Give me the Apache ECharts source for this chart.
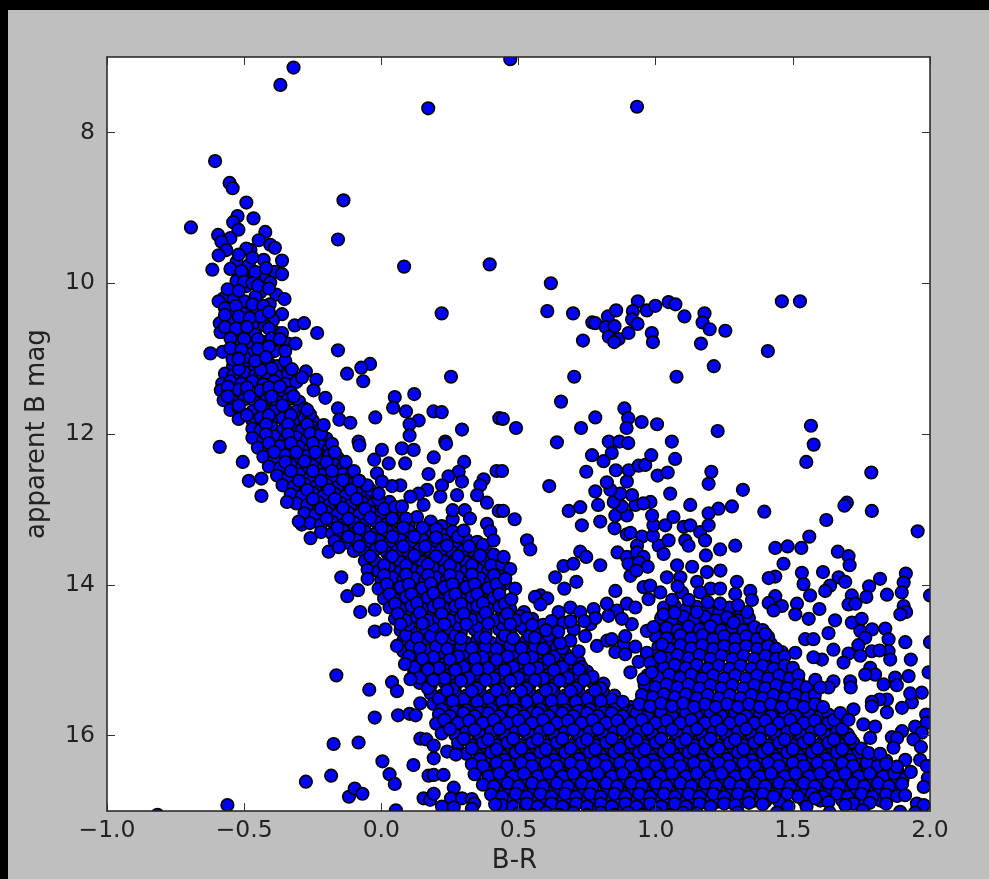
<!DOCTYPE html>
<html><head><meta charset="utf-8">
<style>html,body{margin:0;padding:0;background:#000;width:989px;height:879px;overflow:hidden}
#c{position:absolute;left:8px;top:10px;width:981px;height:869px;filter:blur(0.5px)}</style>
<script src="https://cdn.jsdelivr.net/npm/echarts@6/dist/echarts.min.js"></script>
</head><body><div id="c"></div>
<script>
const xTicks=[-1,-0.5,0,0.5,1,1.5,2];
const yTicks=[8,10,12,14,16];
const brightOutliers=[[-0.32,7.14],[-0.368,7.37],[0.171,7.68],[0.47,7.03],[0.932,7.66],[-0.606,8.38],[-0.553,8.67],[-0.542,8.74],[-0.492,8.93],[-0.138,8.9],[-0.158,9.42],[-0.694,9.26],[0.083,9.78],[0.395,9.75],[0.618,10.0],[0.605,10.37],[0.699,10.4],[1.46,10.24],[1.526,10.24],[0.22,10.4],[-0.158,10.89],[-0.041,11.07],[-0.073,11.12],[-0.125,11.2],[-0.066,11.3],[0.254,11.24]];
const giantArc=[[0.769,10.52],[0.78,10.53],[0.826,10.44],[0.856,10.36],[0.818,10.58],[0.85,10.57],[0.829,10.71],[0.865,10.74],[0.849,10.78],[0.735,10.76],[0.935,10.24],[0.917,10.37],[0.914,10.48],[0.934,10.54],[0.901,10.66],[0.968,10.36],[0.999,10.3],[1.047,10.25],[1.072,10.28],[1.105,10.44],[0.986,10.66],[0.99,10.78],[1.178,10.4],[1.171,10.52],[1.197,10.61],[1.254,10.63],[1.165,10.8],[1.409,10.9],[1.212,11.1],[1.076,11.24],[0.703,11.24],[0.655,11.57]];
const giantBranch=[[0.886,11.66],[0.9,11.79],[0.894,11.92],[0.949,11.84],[1.005,11.87],[0.78,11.78],[0.728,11.92],[0.443,11.8],[0.491,11.92],[1.226,11.96],[1.566,11.89],[0.64,12.11],[0.829,12.1],[0.868,12.1],[0.9,12.12],[1.059,12.1],[1.576,12.14],[0.768,12.28],[0.747,12.5],[0.612,12.69],[0.44,12.49],[0.444,13.02],[0.486,13.13],[0.683,13.02],[0.725,12.97],[0.731,13.21],[0.798,13.16],[0.78,12.76],[0.79,12.94],[0.531,13.41],[0.543,13.53],[0.84,12.25],[0.81,12.36],[0.855,12.48],[0.902,12.48],[0.895,12.63],[0.938,12.42],[0.962,12.41],[0.984,12.28],[1.071,12.33],[1.007,12.55],[1.044,12.51],[1.203,12.5],[1.193,12.66],[1.318,12.74],[1.053,12.79],[1.396,13.03],[1.278,12.96],[1.229,12.99],[1.193,13.05],[1.126,12.94],[1.549,12.37],[1.786,12.51],[1.788,13.02],[1.697,12.91],[1.688,12.95],[1.622,13.14],[1.955,13.29],[1.56,13.36],[1.436,13.51],[1.481,13.49],[1.531,13.51],[1.29,13.48],[1.235,13.53],[1.183,13.61],[1.466,13.72],[1.664,13.56],[1.703,13.62],[1.707,13.74],[0.85,13.25],[0.895,13.08],[0.853,13.08],[0.877,12.96],[0.847,12.9],[0.926,12.94],[0.914,12.81],[0.871,12.79],[0.835,12.74],[0.822,12.64],[0.895,13.33],[0.908,13.31],[0.95,13.36],[0.932,13.48],[1.011,13.48],[1.029,13.59],[1.047,13.41],[0.99,13.35],[0.992,13.21],[1.035,13.21],[1.065,13.1],[0.987,13.08],[0.981,12.9],[0.955,12.92],[1.108,13.41],[1.12,13.48],[1.162,13.3],[1.18,13.41],[1.102,13.23],[1.126,13.21],[1.193,13.21],[0.861,13.57],[0.895,13.63],[0.932,13.57],[0.956,13.63],[0.901,13.72],[0.94,13.7],[0.971,13.76],[0.908,13.88],[0.93,13.81],[0.634,13.9],[0.664,13.75],[0.7,13.72],[0.725,13.56],[0.747,13.63],[0.711,13.96],[0.667,14.05],[0.798,13.74],[0.853,14.08],[0.58,14.14],[0.56,14.16],[0.605,14.18],[0.58,14.26]];
const redFringe=[[1.533,13.84],[1.61,13.83],[1.912,13.85],[1.818,13.92],[1.778,14.02],[1.904,13.97],[1.897,14.1],[1.843,14.13],[2.0,14.14],[1.768,14.16],[1.667,13.9],[1.691,13.96],[1.636,14.01],[1.618,14.08],[1.563,14.14],[1.539,13.99],[1.436,13.89],[1.412,13.91],[1.436,14.15],[1.412,14.24],[1.46,14.28],[1.43,14.34],[1.515,14.25],[1.509,14.39],[1.558,14.45],[1.597,14.32],[1.654,14.47],[1.715,14.14],[1.703,14.26],[1.728,14.25],[1.904,14.28],[1.913,14.36],[1.892,14.39],[1.63,14.64],[1.715,14.5],[1.751,14.45],[1.746,14.61],[1.789,14.59],[1.837,14.58],[1.764,14.7],[1.849,14.72],[1.91,14.76],[1.739,14.8],[1.788,14.88],[1.703,14.91],[1.746,14.94],[1.849,14.88],[1.816,14.87],[1.855,14.99],[1.93,14.99],[2.0,14.76],[1.685,15.03],[1.648,14.86],[1.606,14.99],[1.575,14.96],[1.545,14.72],[1.575,14.72],[1.509,14.9],[1.995,15.16],[1.922,15.21],[1.873,15.23],[1.831,15.32],[1.879,15.33],[1.782,15.1],[1.8,15.19],[1.764,15.19],[1.709,15.28],[1.711,15.36],[1.648,15.28],[1.63,15.36],[1.582,15.26],[1.6,15.36],[1.97,15.43],[1.934,15.56],[1.928,15.44],[1.898,15.63],[1.843,15.52],[1.816,15.52],[1.788,15.55],[1.843,15.69],[1.788,15.61],[1.721,15.65],[1.673,15.7],[1.703,15.79],[1.757,15.85],[1.8,15.88],[1.986,15.72],[1.988,15.83],[1.946,15.88],[1.898,15.94],[1.861,16.02],[1.97,15.96],[1.94,16.05],[1.88,16.03],[1.867,16.16],[1.967,16.15],[1.782,16.03],[1.776,16.23],[1.818,16.24],[1.91,16.32],[1.964,16.32],[1.988,16.4],[1.879,16.41],[1.84,16.37],[1.992,16.56],[1.977,16.68],[1.898,16.64],[1.909,16.79],[1.952,16.9],[1.977,16.92],[1.891,17.01],[1.946,17.02],[1.755,16.99],[1.634,17.02],[1.691,16.92],[1.484,16.94],[1.442,17.02],[1.55,16.94],[1.582,16.83]];
const blueFringe=[[-0.816,17.05],[-0.561,16.92],[-0.141,17.1],[-0.275,16.61],[-0.183,16.53],[-0.174,16.11],[-0.083,16.09],[-0.118,16.81],[-0.097,16.7],[-0.069,16.77],[0.004,16.34],[0.03,16.51],[0.049,16.64],[0.053,16.99],[0.117,16.39],[-0.164,15.2],[-0.044,15.39],[0.039,15.29],[0.057,15.41],[-0.024,15.76],[0.061,15.73],[0.103,15.71],[0.125,15.73],[0.142,15.57],[0.106,15.25],[0.086,15.05],[-0.024,14.62],[0.015,14.59],[0.057,14.81],[-0.077,14.36],[-0.024,14.33],[-0.124,14.15],[-0.085,14.07],[-0.146,13.9],[-0.192,13.56],[-0.258,13.38],[-0.155,13.5],[-0.437,12.82],[-0.483,12.62],[-0.437,12.59],[-0.505,12.37],[-0.589,12.17],[-0.344,12.9],[-0.301,13.16],[0.142,16.04],[0.164,16.05],[0.191,16.13],[0.191,16.3],[0.24,16.21],[0.272,16.25],[0.172,16.53],[0.191,16.52],[0.227,16.52],[0.154,16.83],[0.178,16.85],[0.191,16.77],[0.264,16.69],[0.254,16.83],[0.294,16.83],[0.221,16.94],[0.264,16.95],[0.33,16.84],[0.339,16.9],[0.33,16.97],[0.415,16.91],[0.383,17.1],[0.049,11.51],[0.12,11.47],[0.043,11.65],[0.09,11.7],[0.19,11.7],[0.22,11.71],[-0.022,11.78],[-0.158,11.66],[-0.153,11.81],[-0.113,11.85],[-0.204,11.52],[-0.237,11.28],[-0.275,11.17],[-0.247,11.42],[-0.289,11.25],[-0.326,11.14],[0.136,11.82],[0.103,11.87],[0.294,11.94],[0.103,12.02],[0.43,11.79],[-0.21,11.88],[-0.27,11.68],[0.233,12.1],[-0.083,12.1],[0.42,12.49],[0.302,12.37],[0.282,12.5],[0.245,12.56],[0.294,12.63],[0.221,12.68],[0.172,12.53],[0.191,12.31],[0.087,12.39],[0.027,12.39],[-0.026,12.34],[0.002,12.21],[0.075,12.19],[0.118,12.21],[-0.08,12.15],[0.236,12.13],[0.373,12.6],[0.361,12.68],[0.349,12.81],[0.385,12.91],[0.276,12.81],[0.215,12.83],[0.304,13.01],[0.323,13.12],[0.385,13.19],[0.397,13.29],[0.409,13.41],[0.428,13.02],[0.3,13.28],[0.26,13.01],[0.154,12.94],[0.167,12.74],[0.136,12.79],[0.106,12.83],[0.069,12.68],[0.039,12.69],[-0.016,12.52],[0.002,12.63],[-0.052,12.68],[-0.01,12.79],[0.075,12.96],[-0.083,12.62],[0.446,13.63],[0.47,13.79],[0.452,13.92],[0.488,14.05],[0.474,14.19]];
const tipStars=[[-0.524,9.11],[-0.54,9.19],[-0.466,9.14],[-0.521,9.29],[-0.595,9.36],[-0.423,9.32],[-0.447,9.43],[-0.405,9.49],[-0.388,9.53],[-0.55,9.4],[-0.583,9.45],[-0.565,9.56],[-0.593,9.63],[-0.616,9.82],[-0.362,9.7],[-0.429,9.69],[-0.477,9.56],[-0.492,9.54],[-0.528,9.72],[-0.483,9.76],[-0.55,9.81],[-0.389,9.85],[-0.362,9.88],[-0.429,9.94],[-0.528,9.97],[-0.405,9.99],[-0.465,9.91],[-0.493,10.04],[-0.441,10.12],[-0.383,10.15],[-0.353,10.21],[-0.459,10.18],[-0.575,10.2],[-0.593,10.24],[-0.538,10.21],[-0.499,10.24],[-0.407,10.28],[-0.55,10.34],[-0.465,10.36],[-0.504,10.4],[-0.362,10.41],[-0.395,10.49],[-0.589,10.53],[-0.471,10.55],[-0.425,10.56],[-0.316,10.56],[-0.282,10.53],[-0.234,10.66],[-0.586,10.65],[-0.538,10.66],[-0.386,10.65],[-0.362,10.66],[-0.526,10.79],[-0.429,10.78],[-0.341,10.8],[-0.313,10.8],[-0.623,10.93],[-0.578,10.91],[-0.39,10.9],[-0.35,10.9],[-0.542,11.01],[-0.441,10.97],[-0.52,9.62],[-0.47,9.66],[-0.51,9.84],[-0.46,9.85],[-0.5,9.98],[-0.57,10.33],[-0.53,10.3],[-0.47,10.28],[-0.43,10.3],[-0.55,10.5],[-0.51,10.52],[-0.44,10.44],[-0.5,10.65],[-0.46,10.68],[-0.48,10.82],[-0.47,10.93],[-0.5,10.98]];
const upperBand=[[-0.54,11.1],[-0.5,11.07],[-0.46,11.11],[-0.41,11.06],[-0.38,11.1],[-0.35,11.03],[-0.57,11.2],[-0.54,11.22],[-0.5,11.18],[-0.46,11.22],[-0.42,11.19],[-0.38,11.23],[-0.34,11.2],[-0.58,11.33],[-0.55,11.3],[-0.51,11.33],[-0.47,11.3],[-0.43,11.34],[-0.39,11.3],[-0.35,11.33],[-0.31,11.31],[-0.585,11.42],[-0.56,11.45],[-0.52,11.41],[-0.49,11.45],[-0.44,11.42],[-0.41,11.46],[-0.36,11.43],[-0.33,11.45],[-0.575,11.55],[-0.54,11.57],[-0.5,11.54],[-0.46,11.58],[-0.42,11.55],[-0.38,11.57],[-0.34,11.54],[-0.3,11.57],[-0.55,11.68],[-0.52,11.66],[-0.47,11.7],[-0.43,11.66],[-0.39,11.7],[-0.35,11.67],[-0.31,11.7],[-0.28,11.66],[-0.52,11.8],[-0.47,11.82],[-0.44,11.78],[-0.4,11.82],[-0.36,11.79],[-0.32,11.83],[-0.28,11.79],[-0.25,11.82],[-0.47,11.93],[-0.44,11.95],[-0.4,11.91],[-0.36,11.95],[-0.33,11.92],[-0.29,11.95],[-0.25,11.91],[-0.22,11.94],[-0.47,12.05],[-0.43,12.07],[-0.39,12.03],[-0.35,12.07],[-0.31,12.04],[-0.27,12.07],[-0.24,12.03],[-0.2,12.06],[-0.45,12.18],[-0.41,12.2],[-0.37,12.16],[-0.33,12.2],[-0.3,12.17],[-0.26,12.2],[-0.22,12.16],[-0.19,12.19],[-0.43,12.3],[-0.39,12.32],[-0.35,12.28],[-0.31,12.32],[-0.27,12.29],[-0.23,12.32],[-0.19,12.28],[-0.16,12.31],[-0.41,12.43],[-0.37,12.45],[-0.33,12.41],[-0.29,12.45],[-0.25,12.42],[-0.21,12.45],[-0.17,12.41],[-0.14,12.44],[-0.38,12.55],[-0.34,12.57],[-0.3,12.53],[-0.26,12.57],[-0.22,12.54],[-0.18,12.57],[-0.14,12.53],[-0.11,12.56],[-0.36,12.68],[-0.32,12.7],[-0.28,12.66],[-0.24,12.7],[-0.2,12.67],[-0.16,12.7],[-0.12,12.66],[-0.09,12.69],[-0.06,12.72],[-0.33,12.8],[-0.29,12.82],[-0.25,12.78],[-0.21,12.82],[-0.17,12.79],[-0.13,12.82],[-0.09,12.78],[-0.05,12.81],[-0.02,12.84],[-0.31,12.92],[-0.27,12.94],[-0.23,12.9],[-0.19,12.94],[-0.15,12.91],[-0.11,12.94],[-0.07,12.9],[-0.03,12.93],[0.0,12.96],[0.03,12.9],[-0.28,13.05],[-0.24,13.07],[-0.2,13.03],[-0.16,13.07],[-0.12,13.04],[-0.08,13.07],[-0.04,13.03],[0.0,13.06],[0.03,13.02],[0.07,13.06],[-0.29,13.2],[-0.26,13.18],[-0.22,13.2],[-0.18,13.16],[-0.14,13.2],[-0.1,13.17],[-0.06,13.2],[-0.02,13.16],[0.02,13.19],[0.06,13.16],[0.1,13.2],[0.13,13.1],[0.18,13.16],[0.22,13.22],[0.26,13.13],[-0.22,13.3],[-0.18,13.32],[-0.14,13.28],[-0.1,13.32],[-0.06,13.29],[-0.02,13.32],[0.02,13.28],[0.06,13.31],[0.1,13.28],[0.14,13.32],[0.18,13.29],[0.22,13.33],[0.26,13.29],[-0.17,13.42],[-0.13,13.44],[-0.09,13.4],[-0.05,13.44],[-0.01,13.41],[0.03,13.44],[0.07,13.4],[0.11,13.43],[0.15,13.4],[0.19,13.44],[0.23,13.41],[0.27,13.44],[0.31,13.4],[0.35,13.43],[-0.1,13.55],[-0.06,13.57],[-0.02,13.53],[0.02,13.57],[0.06,13.54],[0.1,13.57],[0.14,13.53],[0.18,13.56],[0.22,13.53],[0.26,13.57],[0.3,13.54],[0.34,13.57],[0.38,13.53],[-0.06,13.68],[-0.02,13.7],[0.03,13.66],[0.07,13.7],[0.11,13.67],[0.15,13.7],[0.19,13.66],[0.23,13.69],[0.27,13.66],[0.31,13.7],[0.35,13.67],[0.38,13.7],[0.42,13.66],[-0.05,13.8],[-0.01,13.82],[0.03,13.78],[0.07,13.82],[0.11,13.79],[0.15,13.82],[0.19,13.78],[0.23,13.81],[0.27,13.78],[0.31,13.82],[0.35,13.79],[0.39,13.82],[0.43,13.79],[-0.05,13.92],[0.0,13.94],[0.04,13.9],[0.08,13.94],[0.12,13.91],[0.16,13.94],[0.2,13.9],[0.24,13.93],[0.28,13.9],[0.32,13.94],[0.36,13.91],[0.4,13.94],[-0.01,14.05],[0.03,14.07],[0.07,14.03],[0.11,14.07],[0.15,14.04],[0.19,14.07],[0.23,14.03],[0.27,14.06],[0.31,14.03],[0.35,14.07],[0.39,14.04],[0.43,14.07],[0.01,14.18],[0.05,14.2],[0.09,14.16],[0.13,14.2],[0.17,14.17],[0.21,14.2],[0.25,14.16],[0.29,14.19],[0.33,14.16],[0.37,14.2],[0.41,14.17],[0.44,14.2],[0.03,14.3],[0.07,14.32],[0.11,14.28],[0.15,14.32],[0.19,14.29],[0.23,14.32],[0.27,14.28],[0.31,14.31],[0.35,14.28],[0.39,14.32],[0.43,14.29],[0.47,14.32],[0.05,14.45],[0.09,14.47],[0.13,14.43],[0.17,14.47],[0.21,14.44],[0.25,14.47],[0.29,14.43],[0.33,14.46],[0.37,14.43],[0.41,14.47],[0.45,14.44],[0.49,14.47],[0.53,14.44]];
const topEdge=[[0.506,14.41],[0.55,14.45],[0.646,14.36],[0.689,14.3],[0.725,14.36],[0.774,14.32],[0.822,14.25],[0.859,14.34],[0.895,14.25],[0.926,14.3],[0.828,14.41],[0.913,14.52],[0.877,14.45],[0.762,14.52],[0.701,14.59],[0.743,14.68],[0.689,14.74],[0.652,14.77],[0.719,14.88],[0.786,14.81],[0.823,14.74],[0.84,14.72],[0.883,14.79],[0.889,14.68],[0.853,14.89],[0.889,14.92],[0.926,14.82],[0.968,14.61],[0.992,14.56],[0.968,14.9],[0.938,15.02],[0.98,15.03],[0.908,15.16],[1.017,14.96],[1.023,14.79],[0.956,15.25],[0.986,15.16],[0.62,14.48],[0.665,14.5],[0.6,14.6],[0.645,14.62],[0.78,14.44],[0.74,14.48],[0.69,14.48],[0.956,14.03],[0.98,14.01],[0.974,14.19],[1.017,14.1],[1.041,13.9],[1.078,13.74],[1.133,13.76],[1.09,13.9],[1.187,13.83],[1.236,13.81],[1.151,13.96],[1.2,14.05],[1.296,13.96],[1.345,14.08],[1.351,14.2],[1.29,14.12],[1.235,14.05],[1.096,14.1],[1.162,14.1],[1.029,14.39],[1.07,14.37],[1.15,14.36],[1.235,14.25],[1.19,14.23],[1.333,14.36],[1.284,14.5],[1.4,14.65],[1.06,14.2],[1.12,14.2],[1.3,14.27],[1.08,14.02]];
const redClump=[[1.03,14.3],[1.07,14.28],[1.11,14.33],[1.15,14.29],[1.19,14.33],[1.23,14.37],[1.27,14.3],[1.31,14.4],[1.02,14.44],[1.06,14.47],[1.1,14.42],[1.14,14.46],[1.18,14.42],[1.22,14.47],[1.26,14.43],[1.3,14.47],[1.34,14.44],[1.04,14.57],[1.08,14.6],[1.12,14.55],[1.16,14.59],[1.2,14.55],[1.24,14.6],[1.28,14.56],[1.32,14.6],[1.36,14.56],[1.39,14.6],[1.0,14.68],[1.04,14.71],[1.09,14.67],[1.13,14.71],[1.17,14.67],[1.21,14.72],[1.25,14.68],[1.29,14.72],[1.33,14.68],[1.37,14.72],[1.41,14.69],[1.01,14.82],[1.05,14.85],[1.09,14.8],[1.13,14.84],[1.17,14.8],[1.21,14.85],[1.25,14.81],[1.29,14.85],[1.33,14.81],[1.37,14.85],[1.41,14.81],[1.44,14.85],[1.0,14.94],[1.04,14.97],[1.08,14.93],[1.12,14.97],[1.16,14.93],[1.2,14.98],[1.24,14.94],[1.28,14.98],[1.32,14.94],[1.36,14.98],[1.4,14.94],[1.44,14.98],[1.47,14.95],[0.99,15.07],[1.03,15.1],[1.07,15.06],[1.11,15.1],[1.15,15.06],[1.19,15.11],[1.23,15.07],[1.27,15.11],[1.31,15.07],[1.35,15.11],[1.39,15.07],[1.43,15.11],[1.47,15.07],[1.5,15.1],[0.97,15.2],[1.01,15.23],[1.05,15.19],[1.09,15.23],[1.13,15.19],[1.17,15.24],[1.21,15.2],[1.25,15.24],[1.29,15.2],[1.33,15.24],[1.37,15.2],[1.41,15.24],[1.45,15.2],[1.49,15.24],[1.52,15.2],[0.96,15.33],[1.0,15.36],[1.04,15.32],[1.08,15.36],[1.12,15.32],[1.16,15.37],[1.2,15.33],[1.24,15.37],[1.28,15.33],[1.32,15.37],[1.36,15.33],[1.4,15.37],[1.44,15.33],[1.48,15.37],[1.52,15.33],[1.55,15.36],[0.95,15.46],[0.99,15.49],[1.03,15.45],[1.07,15.49],[1.11,15.45],[1.15,15.5],[1.19,15.46],[1.23,15.5],[1.27,15.46],[1.31,15.5],[1.35,15.46],[1.39,15.5],[1.43,15.46],[1.47,15.5],[1.51,15.46],[1.55,15.5],[1.58,15.46],[0.94,15.58],[0.98,15.61],[1.02,15.57],[1.06,15.61],[1.1,15.57],[1.14,15.62],[1.18,15.58],[1.22,15.62],[1.26,15.58],[1.3,15.62],[1.34,15.58],[1.38,15.62],[1.42,15.58],[1.46,15.62],[1.5,15.58],[1.54,15.62],[1.58,15.58],[1.61,15.62]];
const msLower=[[0.07,14.6],[0.11,14.62],[0.16,14.58],[0.2,14.62],[0.25,14.59],[0.29,14.63],[0.34,14.59],[0.38,14.63],[0.43,14.59],[0.47,14.63],[0.52,14.58],[0.56,14.63],[0.08,14.74],[0.13,14.77],[0.17,14.73],[0.22,14.77],[0.26,14.73],[0.31,14.77],[0.35,14.73],[0.4,14.77],[0.44,14.73],[0.49,14.77],[0.53,14.73],[0.58,14.77],[0.62,14.74],[0.08,14.88],[0.12,14.91],[0.17,14.87],[0.21,14.91],[0.26,14.87],[0.3,14.91],[0.35,14.87],[0.39,14.91],[0.44,14.87],[0.48,14.91],[0.53,14.87],[0.57,14.91],[0.62,14.88],[0.67,14.91],[0.1,15.02],[0.14,15.05],[0.19,15.01],[0.23,15.05],[0.28,15.01],[0.32,15.05],[0.37,15.01],[0.41,15.05],[0.46,15.01],[0.5,15.05],[0.55,15.01],[0.59,15.05],[0.64,15.01],[0.68,15.05],[0.72,15.02],[0.12,15.16],[0.16,15.19],[0.21,15.15],[0.25,15.19],[0.3,15.15],[0.34,15.19],[0.39,15.15],[0.43,15.19],[0.48,15.15],[0.52,15.19],[0.57,15.15],[0.61,15.19],[0.66,15.15],[0.7,15.19],[0.75,15.15],[0.14,15.3],[0.18,15.33],[0.23,15.29],[0.27,15.33],[0.32,15.29],[0.36,15.33],[0.41,15.29],[0.45,15.33],[0.5,15.29],[0.54,15.33],[0.59,15.29],[0.63,15.33],[0.68,15.29],[0.72,15.33],[0.77,15.29],[0.81,15.31],[0.18,15.44],[0.22,15.47],[0.27,15.43],[0.31,15.47],[0.36,15.43],[0.4,15.47],[0.45,15.43],[0.49,15.47],[0.54,15.43],[0.58,15.47],[0.63,15.43],[0.67,15.47],[0.72,15.43],[0.76,15.47],[0.81,15.43],[0.85,15.47],[0.19,15.58],[0.24,15.6],[0.28,15.56],[0.33,15.6],[0.37,15.56],[0.42,15.6],[0.46,15.56],[0.51,15.6],[0.55,15.56],[0.6,15.6],[0.64,15.56],[0.69,15.6],[0.73,15.56],[0.78,15.6],[0.82,15.56],[0.87,15.59],[0.91,15.62]];
const lowerA=[[0.21,15.72],[0.25,15.74],[0.3,15.7],[0.34,15.74],[0.39,15.7],[0.43,15.74],[0.48,15.7],[0.52,15.74],[0.57,15.7],[0.61,15.74],[0.66,15.7],[0.7,15.74],[0.75,15.7],[0.79,15.74],[0.84,15.7],[0.88,15.74],[0.93,15.7],[0.97,15.74],[1.02,15.7],[1.06,15.74],[1.11,15.7],[1.15,15.74],[1.2,15.7],[1.24,15.74],[1.29,15.7],[1.33,15.74],[1.38,15.7],[1.42,15.74],[1.47,15.7],[1.51,15.74],[1.56,15.7],[1.6,15.74],[1.63,15.72],[0.2,15.84],[0.24,15.87],[0.28,15.83],[0.33,15.87],[0.37,15.83],[0.42,15.87],[0.46,15.83],[0.51,15.87],[0.55,15.83],[0.6,15.87],[0.64,15.83],[0.69,15.87],[0.73,15.83],[0.78,15.87],[0.82,15.83],[0.87,15.87],[0.91,15.83],[0.96,15.87],[1.0,15.83],[1.05,15.87],[1.09,15.83],[1.14,15.87],[1.18,15.83],[1.23,15.87],[1.27,15.83],[1.32,15.87],[1.36,15.83],[1.41,15.87],[1.45,15.83],[1.5,15.87],[1.54,15.83],[1.59,15.87],[1.63,15.83],[1.67,15.86],[0.22,15.97],[0.27,15.99],[0.31,15.95],[0.36,15.99],[0.4,15.95],[0.45,15.99],[0.49,15.95],[0.54,15.99],[0.58,15.95],[0.63,15.99],[0.67,15.95],[0.72,15.99],[0.76,15.95],[0.81,15.99],[0.85,15.95],[0.9,15.99],[0.94,15.95],[0.99,15.99],[1.03,15.95],[1.08,15.99],[1.12,15.95],[1.17,15.99],[1.21,15.95],[1.26,15.99],[1.3,15.95],[1.35,15.99],[1.39,15.95],[1.44,15.99],[1.48,15.95],[1.53,15.99],[1.57,15.95],[1.62,15.99],[1.66,15.95],[1.7,15.98],[0.28,16.1],[0.33,16.13],[0.37,16.09],[0.42,16.13],[0.46,16.09],[0.51,16.13],[0.55,16.09],[0.6,16.13],[0.64,16.09],[0.69,16.13],[0.73,16.09],[0.78,16.13],[0.82,16.09],[0.87,16.13],[0.91,16.09],[0.96,16.13],[1.0,16.09],[1.05,16.13],[1.09,16.09],[1.14,16.13],[1.18,16.09],[1.23,16.13],[1.27,16.09],[1.32,16.13],[1.36,16.09],[1.41,16.13],[1.45,16.09],[1.5,16.13],[1.54,16.09],[1.59,16.13],[1.63,16.09],[1.68,16.13],[1.72,16.09],[0.31,16.24],[0.35,16.26],[0.4,16.22],[0.44,16.26],[0.49,16.22],[0.53,16.26],[0.58,16.22],[0.62,16.26],[0.67,16.22],[0.71,16.26],[0.76,16.22],[0.8,16.26],[0.85,16.22],[0.89,16.26],[0.94,16.22],[0.98,16.26],[1.03,16.22],[1.07,16.26],[1.12,16.22],[1.16,16.26],[1.21,16.22],[1.25,16.26],[1.3,16.22],[1.34,16.26],[1.39,16.22],[1.43,16.26],[1.48,16.22],[1.52,16.26],[1.57,16.22],[1.61,16.26],[1.66,16.22],[1.7,16.26],[1.74,16.22]];
const lowerB=[[0.33,16.38],[0.37,16.4],[0.42,16.36],[0.46,16.4],[0.51,16.36],[0.55,16.4],[0.6,16.36],[0.64,16.4],[0.69,16.36],[0.73,16.4],[0.78,16.36],[0.82,16.4],[0.87,16.36],[0.91,16.4],[0.96,16.36],[1.0,16.4],[1.05,16.36],[1.09,16.4],[1.14,16.36],[1.18,16.4],[1.23,16.36],[1.27,16.4],[1.32,16.36],[1.36,16.4],[1.41,16.36],[1.45,16.4],[1.5,16.36],[1.54,16.4],[1.59,16.36],[1.63,16.4],[1.68,16.36],[1.72,16.4],[1.77,16.36],[1.81,16.4],[0.34,16.51],[0.39,16.54],[0.43,16.5],[0.48,16.54],[0.52,16.5],[0.57,16.54],[0.61,16.5],[0.66,16.54],[0.7,16.5],[0.75,16.54],[0.79,16.5],[0.84,16.54],[0.88,16.5],[0.93,16.54],[0.97,16.5],[1.02,16.54],[1.06,16.5],[1.11,16.54],[1.15,16.5],[1.2,16.54],[1.24,16.5],[1.29,16.54],[1.33,16.5],[1.38,16.54],[1.42,16.5],[1.47,16.54],[1.51,16.5],[1.56,16.54],[1.6,16.5],[1.65,16.54],[1.69,16.5],[1.74,16.54],[1.78,16.5],[1.83,16.54],[1.87,16.5],[1.93,16.48],[0.37,16.65],[0.41,16.67],[0.46,16.63],[0.5,16.67],[0.55,16.63],[0.59,16.67],[0.64,16.63],[0.68,16.67],[0.73,16.63],[0.77,16.67],[0.82,16.63],[0.86,16.67],[0.91,16.63],[0.95,16.67],[1.0,16.63],[1.04,16.67],[1.09,16.63],[1.13,16.67],[1.18,16.63],[1.22,16.67],[1.27,16.63],[1.31,16.67],[1.36,16.63],[1.4,16.67],[1.45,16.63],[1.49,16.67],[1.54,16.63],[1.58,16.67],[1.63,16.63],[1.67,16.67],[1.72,16.63],[1.76,16.67],[1.81,16.63],[1.85,16.67],[0.4,16.78],[0.44,16.81],[0.49,16.77],[0.53,16.81],[0.58,16.77],[0.62,16.81],[0.67,16.77],[0.71,16.81],[0.76,16.77],[0.8,16.81],[0.85,16.77],[0.89,16.81],[0.94,16.77],[0.98,16.81],[1.03,16.77],[1.07,16.81],[1.12,16.77],[1.16,16.81],[1.21,16.77],[1.25,16.81],[1.3,16.77],[1.34,16.81],[1.39,16.77],[1.43,16.81],[1.48,16.77],[1.52,16.81],[1.57,16.77],[1.61,16.81],[1.66,16.77],[1.7,16.81],[1.75,16.77],[1.79,16.81],[1.84,16.78],[1.88,16.8],[0.44,16.92],[0.48,16.94],[0.53,16.9],[0.57,16.94],[0.62,16.9],[0.66,16.94],[0.71,16.9],[0.75,16.94],[0.8,16.9],[0.84,16.94],[0.89,16.9],[0.93,16.94],[0.98,16.9],[1.02,16.94],[1.07,16.9],[1.11,16.94],[1.16,16.9],[1.2,16.94],[1.25,16.9],[1.29,16.92],[1.34,16.89],[1.39,16.91],[1.63,16.88],[1.72,16.9],[1.78,16.89],[1.84,16.9],[0.5,17.03],[0.55,17.05],[0.6,17.02],[0.65,17.05],[0.7,17.02],[0.75,17.05],[0.8,17.02],[0.85,17.05],[0.9,17.02],[0.95,17.05],[1.0,17.02],[1.05,17.05],[1.1,17.02],[1.15,17.03],[1.3,17.02]];
const fillTip=[[-0.56,10.08],[-0.52,10.1],[-0.47,10.0],[-0.42,9.8],[-0.45,10.03],[-0.41,10.07],[-0.57,10.42],[-0.52,10.44],[-0.48,10.46],[-0.41,10.38],[-0.57,10.58],[-0.53,10.6],[-0.49,10.58],[-0.41,10.6],[-0.55,10.73],[-0.5,10.74],[-0.45,10.74],[-0.4,10.73],[-0.37,10.74],[-0.55,10.86],[-0.51,10.88],[-0.45,10.87],[-0.41,10.84],[-0.52,11.0],[-0.46,11.03],[-0.42,10.98]];
const fillBand=[[-0.4,11.13],[-0.44,11.15],[-0.52,11.14],[-0.56,11.37],[-0.49,11.38],[-0.41,11.38],[-0.37,11.37],[-0.56,11.5],[-0.48,11.5],[-0.4,11.5],[-0.32,11.5],[-0.52,11.62],[-0.44,11.62],[-0.36,11.62],[-0.49,11.75],[-0.41,11.75],[-0.33,11.75],[-0.26,11.74],[-0.42,11.87],[-0.34,11.87],[-0.27,11.87],[-0.42,12.0],[-0.34,12.0],[-0.26,11.99],[-0.22,12.0],[-0.41,12.12],[-0.33,12.12],[-0.25,12.12],[-0.18,12.13],[-0.39,12.24],[-0.31,12.24],[-0.24,12.24],[-0.17,12.24],[-0.35,12.37],[-0.28,12.36],[-0.2,12.37],[-0.13,12.37],[-0.33,12.49],[-0.25,12.49],[-0.18,12.49],[-0.1,12.49],[-0.3,12.62],[-0.22,12.62],[-0.14,12.61],[-0.08,12.62],[-0.27,12.74],[-0.19,12.74],[-0.11,12.74],[-0.04,12.74],[-0.25,12.86],[-0.17,12.86],[-0.09,12.86],[-0.01,12.87],[-0.22,12.99],[-0.14,12.98],[-0.06,12.99],[0.01,12.99],[0.05,12.97],[-0.2,13.12],[-0.12,13.12],[-0.04,13.11],[0.04,13.12],[0.09,13.12],[-0.16,13.24],[-0.08,13.25],[0.0,13.24],[0.08,13.24],[0.15,13.24],[0.2,13.26],[-0.12,13.36],[-0.04,13.37],[0.04,13.36],[0.12,13.36],[0.2,13.37],[0.28,13.36],[-0.08,13.49],[0.0,13.49],[0.08,13.49],[0.16,13.49],[0.24,13.48],[0.32,13.49],[0.37,13.47],[-0.04,13.62],[0.04,13.62],[0.12,13.61],[0.2,13.62],[0.28,13.62],[0.36,13.61],[0.41,13.6],[0.01,13.74],[0.09,13.74],[0.17,13.73],[0.25,13.74],[0.33,13.74],[0.4,13.74],[0.44,13.73],[0.01,13.87],[0.09,13.86],[0.17,13.87],[0.25,13.87],[0.33,13.86],[0.41,13.87],[0.02,13.99],[0.1,13.99],[0.18,13.98],[0.26,13.99],[0.34,13.99],[0.42,13.99],[0.03,14.12],[0.11,14.12],[0.19,14.11],[0.27,14.12],[0.35,14.12],[0.43,14.12],[0.05,14.25],[0.13,14.24],[0.21,14.25],[0.29,14.25],[0.37,14.24],[0.45,14.25],[0.06,14.38],[0.14,14.37],[0.22,14.38],[0.3,14.38],[0.38,14.37],[0.46,14.38],[0.07,14.52],[0.15,14.51],[0.23,14.52],[0.31,14.52],[0.39,14.51],[0.47,14.52],[0.55,14.53]];
const fillMiddle=[[0.09,14.67],[0.18,14.68],[0.27,14.67],[0.36,14.68],[0.45,14.67],[0.54,14.68],[0.61,14.67],[0.11,14.81],[0.2,14.82],[0.29,14.81],[0.38,14.82],[0.47,14.81],[0.56,14.82],[0.64,14.83],[0.1,14.95],[0.19,14.96],[0.28,14.95],[0.37,14.96],[0.46,14.95],[0.55,14.96],[0.63,14.95],[0.12,15.09],[0.21,15.1],[0.3,15.09],[0.39,15.1],[0.48,15.09],[0.57,15.1],[0.66,15.09],[0.73,15.09],[0.14,15.23],[0.23,15.24],[0.32,15.23],[0.41,15.24],[0.5,15.23],[0.59,15.24],[0.68,15.23],[0.77,15.22],[0.17,15.37],[0.26,15.38],[0.35,15.37],[0.44,15.38],[0.53,15.37],[0.62,15.38],[0.71,15.37],[0.8,15.37],[0.21,15.51],[0.3,15.52],[0.39,15.51],[0.48,15.52],[0.57,15.51],[0.66,15.52],[0.75,15.51],[0.84,15.52],[0.22,15.65],[0.31,15.66],[0.4,15.65],[0.49,15.66],[0.58,15.65],[0.67,15.66],[0.76,15.65],[0.85,15.65],[0.9,15.67],[1.03,14.37],[1.12,14.38],[1.21,14.37],[1.29,14.36],[1.07,14.51],[1.16,14.52],[1.25,14.51],[1.33,14.52],[1.02,14.63],[1.11,14.64],[1.2,14.63],[1.29,14.64],[1.38,14.64],[1.03,14.77],[1.12,14.78],[1.21,14.77],[1.3,14.78],[1.39,14.77],[1.02,14.89],[1.11,14.9],[1.2,14.89],[1.29,14.9],[1.38,14.89],[1.46,14.89],[1.02,15.02],[1.11,15.03],[1.2,15.02],[1.29,15.03],[1.38,15.02],[1.45,15.03],[1.0,15.15],[1.09,15.16],[1.18,15.15],[1.27,15.16],[1.36,15.15],[1.45,15.16],[1.5,15.15],[0.98,15.28],[1.07,15.29],[1.16,15.28],[1.25,15.29],[1.34,15.28],[1.43,15.29],[1.52,15.28],[0.97,15.41],[1.06,15.42],[1.15,15.41],[1.24,15.42],[1.33,15.41],[1.42,15.42],[1.51,15.41],[1.56,15.41],[0.96,15.53],[1.05,15.54],[1.14,15.53],[1.23,15.54],[1.32,15.53],[1.41,15.54],[1.5,15.53],[1.58,15.54],[0.96,15.66],[1.05,15.67],[1.14,15.66],[1.23,15.67],[1.32,15.66],[1.41,15.67],[1.5,15.66],[1.59,15.67]];
const fillLower=[[0.23,15.79],[0.32,15.8],[0.41,15.79],[0.5,15.8],[0.59,15.79],[0.68,15.8],[0.77,15.79],[0.86,15.8],[0.95,15.79],[1.04,15.8],[1.13,15.79],[1.22,15.8],[1.31,15.79],[1.4,15.8],[1.49,15.79],[1.58,15.8],[1.65,15.79],[0.25,15.91],[0.34,15.92],[0.43,15.91],[0.52,15.92],[0.61,15.91],[0.7,15.92],[0.79,15.91],[0.88,15.92],[0.97,15.91],[1.06,15.92],[1.15,15.91],[1.24,15.92],[1.33,15.91],[1.42,15.92],[1.51,15.91],[1.6,15.92],[1.68,15.91],[0.3,16.04],[0.39,16.05],[0.48,16.04],[0.57,16.05],[0.66,16.04],[0.75,16.05],[0.84,16.04],[0.93,16.05],[1.02,16.04],[1.11,16.05],[1.2,16.04],[1.29,16.05],[1.38,16.04],[1.47,16.05],[1.56,16.04],[1.65,16.05],[1.71,16.04],[0.33,16.17],[0.42,16.18],[0.51,16.17],[0.6,16.18],[0.69,16.17],[0.78,16.18],[0.87,16.17],[0.96,16.18],[1.05,16.17],[1.14,16.18],[1.23,16.17],[1.32,16.18],[1.41,16.17],[1.5,16.18],[1.59,16.17],[1.68,16.18],[1.75,16.17],[0.36,16.31],[0.45,16.32],[0.54,16.31],[0.63,16.32],[0.72,16.31],[0.81,16.32],[0.9,16.31],[0.99,16.32],[1.08,16.31],[1.17,16.32],[1.26,16.31],[1.35,16.32],[1.44,16.31],[1.53,16.32],[1.62,16.31],[1.71,16.32],[1.8,16.32],[0.38,16.45],[0.47,16.46],[0.56,16.45],[0.65,16.46],[0.74,16.45],[0.83,16.46],[0.92,16.45],[1.01,16.46],[1.1,16.45],[1.19,16.46],[1.28,16.45],[1.37,16.46],[1.46,16.45],[1.55,16.46],[1.64,16.45],[1.73,16.46],[1.82,16.46],[1.88,16.46],[0.39,16.59],[0.48,16.6],[0.57,16.59],[0.66,16.6],[0.75,16.59],[0.84,16.6],[0.93,16.59],[1.02,16.6],[1.11,16.59],[1.2,16.6],[1.29,16.59],[1.38,16.6],[1.47,16.59],[1.56,16.6],[1.65,16.59],[1.74,16.6],[1.83,16.59],[1.9,16.58],[0.42,16.72],[0.51,16.73],[0.6,16.72],[0.69,16.73],[0.78,16.72],[0.87,16.73],[0.96,16.72],[1.05,16.73],[1.14,16.72],[1.23,16.73],[1.32,16.72],[1.41,16.73],[1.5,16.72],[1.59,16.73],[1.68,16.72],[1.77,16.73],[1.86,16.72],[0.46,16.86],[0.55,16.87],[0.64,16.86],[0.73,16.87],[0.82,16.86],[0.91,16.87],[1.0,16.86],[1.09,16.87],[1.18,16.86],[1.27,16.87],[1.36,16.86],[1.45,16.87],[1.54,16.86],[1.6,16.86],[1.68,16.86],[1.75,16.85],[1.82,16.86],[0.5,16.98],[0.59,16.99],[0.68,16.98],[0.77,16.99],[0.86,16.98],[0.95,16.99],[1.04,16.98],[1.13,16.97]];
const gapStars=[[0.05,13.61],[0.16,13.64],[0.24,13.6],[0.33,13.63],[0.39,13.59],[0.06,13.76],[0.13,13.77],[0.21,13.74],[0.3,13.76],[0.37,13.75],[0.45,13.76],[0.03,13.97],[0.12,13.96],[0.19,13.95],[0.29,13.97],[0.37,13.96],[0.45,13.98],[0.06,14.1],[0.14,14.1],[0.23,14.09],[0.31,14.11],[0.41,14.09],[0.08,14.23],[0.16,14.22],[0.24,14.23],[0.33,14.22],[0.42,14.23],[0.1,14.35],[0.18,14.35],[0.26,14.36],[0.35,14.34],[0.44,14.36],[0.52,14.36],[0.1,14.53],[0.19,14.54],[0.28,14.53],[0.35,14.54],[0.44,14.52],[0.51,14.54],[0.59,14.53],[0.13,14.7],[0.22,14.7],[0.29,14.71],[0.38,14.7],[0.48,14.71],[0.56,14.7],[0.14,14.84],[0.24,14.85],[0.33,14.84],[0.42,14.85],[0.51,14.84],[0.59,14.85],[0.66,14.84],[0.15,14.98],[0.25,14.99],[0.34,14.98],[0.42,14.99],[0.52,14.98],[0.61,14.99],[0.69,14.98],[0.17,15.12],[0.27,15.13],[0.35,15.12],[0.45,15.13],[0.54,15.12],[0.63,15.13],[0.72,15.12],[0.19,15.26],[0.29,15.27],[0.38,15.26],[0.47,15.27],[0.56,15.26],[0.65,15.27],[0.74,15.26],[0.24,15.4],[0.33,15.41],[0.42,15.4],[0.51,15.41],[0.6,15.4],[0.69,15.41],[0.78,15.4],[0.26,15.54],[0.35,15.55],[0.44,15.54],[0.53,15.55],[0.62,15.54],[0.71,15.55],[0.8,15.54],[0.88,15.55],[0.27,15.68],[0.36,15.69],[0.45,15.67],[0.55,15.69],[0.63,15.68],[0.72,15.67],[0.81,15.69],[0.92,15.67],[1.0,15.68],[1.09,15.69],[1.18,15.67],[1.26,15.68],[1.36,15.69],[1.44,15.68],[1.53,15.67],[0.27,15.8],[0.35,15.81],[0.45,15.8],[0.53,15.81],[0.63,15.8],[0.71,15.82],[0.8,15.8],[0.9,15.81],[0.98,15.8],[1.07,15.82],[1.16,15.8],[1.25,15.81],[1.34,15.8],[1.43,15.82],[1.52,15.8],[1.61,15.81],[0.29,15.94],[0.38,15.93],[0.47,15.94],[0.56,15.93],[0.65,15.94],[0.74,15.93],[0.83,15.94],[0.92,15.93],[1.01,15.94],[1.1,15.93],[1.19,15.94],[1.28,15.93],[1.37,15.94],[1.46,15.93],[1.55,15.94],[1.64,15.93],[0.35,16.07],[0.44,16.06],[0.53,16.07],[0.62,16.06],[0.71,16.07],[0.8,16.06],[0.89,16.07],[0.98,16.06],[1.07,16.07],[1.16,16.06],[1.25,16.07],[1.34,16.06],[1.43,16.07],[1.52,16.06],[1.61,16.07],[1.7,16.06],[0.37,16.2],[0.47,16.19],[0.55,16.2],[0.65,16.19],[0.73,16.2],[0.83,16.19],[0.91,16.2],[1.01,16.19],[1.09,16.2],[1.19,16.19],[1.27,16.2],[1.37,16.19],[1.45,16.2],[1.55,16.19],[1.63,16.2],[1.73,16.19],[0.39,16.34],[0.49,16.33],[0.57,16.34],[0.67,16.33],[0.75,16.34],[0.85,16.33],[0.93,16.34],[1.03,16.33],[1.11,16.34],[1.21,16.33],[1.29,16.34],[1.39,16.33],[1.47,16.34],[1.57,16.33],[1.65,16.34],[1.75,16.33],[1.84,16.33],[0.41,16.47],[0.5,16.48],[0.59,16.47],[0.68,16.48],[0.77,16.47],[0.86,16.48],[0.95,16.47],[1.04,16.48],[1.13,16.47],[1.22,16.48],[1.31,16.47],[1.4,16.48],[1.49,16.47],[1.58,16.48],[1.67,16.47],[1.76,16.48],[1.85,16.47],[0.42,16.6],[0.51,16.61],[0.61,16.6],[0.7,16.61],[0.79,16.6],[0.88,16.61],[0.97,16.6],[1.06,16.61],[1.15,16.6],[1.24,16.61],[1.33,16.6],[1.42,16.61],[1.51,16.6],[1.6,16.61],[1.69,16.6],[1.78,16.61],[1.87,16.6],[0.45,16.74],[0.55,16.75],[0.63,16.74],[0.72,16.75],[0.81,16.74],[0.9,16.75],[0.99,16.74],[1.08,16.75],[1.17,16.74],[1.26,16.75],[1.35,16.74],[1.44,16.75],[1.53,16.74],[1.62,16.75],[1.71,16.74],[1.8,16.75],[1.89,16.74],[0.5,16.88],[0.59,16.89],[0.68,16.88],[0.77,16.89],[0.86,16.88],[0.95,16.89],[1.04,16.88],[1.13,16.89],[1.22,16.88],[1.31,16.88],[1.4,16.87],[1.05,14.42],[1.13,14.41],[1.21,14.43],[1.29,14.42],[1.06,14.65],[1.15,14.66],[1.23,14.65],[1.31,14.64],[1.4,14.66],[1.07,14.79],[1.15,14.78],[1.24,14.79],[1.32,14.78],[1.42,14.78],[1.06,14.92],[1.14,14.91],[1.23,14.92],[1.31,14.91],[1.41,14.92],[1.05,15.04],[1.13,15.05],[1.22,15.04],[1.31,15.05],[1.42,15.04],[1.02,15.17],[1.11,15.18],[1.2,15.17],[1.29,15.18],[1.38,15.17],[1.48,15.18],[1.02,15.31],[1.1,15.3],[1.19,15.31],[1.28,15.3],[1.37,15.31],[1.47,15.3],[1.01,15.43],[1.09,15.44],[1.18,15.43],[1.27,15.44],[1.37,15.43],[1.46,15.44],[1.54,15.43],[1.0,15.56],[1.09,15.55],[1.18,15.56],[1.27,15.55],[1.37,15.56],[1.45,15.55],[1.55,15.56]];
const stars=[].concat(msLower,fillMiddle,gapStars,lowerA,fillLower,lowerB,redClump,topEdge,upperBand,fillBand,tipStars,fillTip,blueFringe,redFringe,giantBranch,giantArc,brightOutliers);
const txt={color:'#222',fontFamily:'DejaVu Sans',fontSize:23.5};
const nameTxt={color:'#222',fontFamily:'DejaVu Sans',fontSize:26};
const minus=v=>Number(v).toFixed(1).replace('-','\u2212');
const tick={inside:true,length:8,lineStyle:{color:'#333',width:1}};
const axLine={show:true,onZero:false,lineStyle:{color:'#222',width:1.5}};
const chart=echarts.init(document.getElementById('c'),null,{renderer:'canvas'});
chart.setOption({
 animation:false,backgroundColor:'#bfbfbf',
 grid:{left:99,right:59,top:47,bottom:67,show:true,backgroundColor:'#fff',borderWidth:0},
 xAxis:[
  {type:'value',z:10,min:-1,max:2,position:'bottom',name:'B-R',nameLocation:'middle',nameGap:36,nameTextStyle:{...nameTxt,padding:[0,8,0,0]},axisLine:axLine,splitLine:{show:false},
   axisTick:{...tick,customValues:xTicks},axisLabel:{...txt,margin:8,showMinLabel:true,showMaxLabel:true,customValues:xTicks,formatter:minus}},
  {type:'value',z:10,min:-1,max:2,position:'top',axisLine:axLine,splitLine:{show:false},axisTick:{...tick,customValues:xTicks},axisLabel:{show:false}}],
 yAxis:[
  {type:'value',z:10,min:7,max:17,inverse:true,position:'left',name:'apparent B mag',nameLocation:'middle',nameGap:57,nameTextStyle:nameTxt,axisLine:axLine,splitLine:{show:false},
   axisTick:{...tick,customValues:yTicks},axisLabel:{...txt,margin:12,customValues:yTicks}},
  {type:'value',z:10,min:7,max:17,inverse:true,position:'right',axisLine:axLine,splitLine:{show:false},axisTick:{...tick,customValues:yTicks},axisLabel:{show:false}}],
 series:[{type:'scatter',xAxisIndex:0,yAxisIndex:0,data:stars,symbol:'circle',symbolSize:12.5,clip:false,large:false,z:2,
   itemStyle:{color:'#0000ff',borderColor:'#000',borderWidth:1.7,opacity:1}}]
});
const [pl,pb]=chart.convertToPixel({xAxisIndex:0,yAxisIndex:0},[-1,17]);
const [pr,pt]=chart.convertToPixel({xAxisIndex:0,yAxisIndex:0},[2,7]);
const W=chart.getWidth(),H=chart.getHeight();
const mask=(x,y,width,height)=>({type:'rect',z:5,silent:true,shape:{x,y,width,height},style:{fill:'#bfbfbf'}});
chart.setOption({graphic:[mask(0,0,W,pt),mask(0,pb,W,H-pb),mask(0,0,pl,H),mask(pr,0,W-pr,H)]});
</script></body></html>
